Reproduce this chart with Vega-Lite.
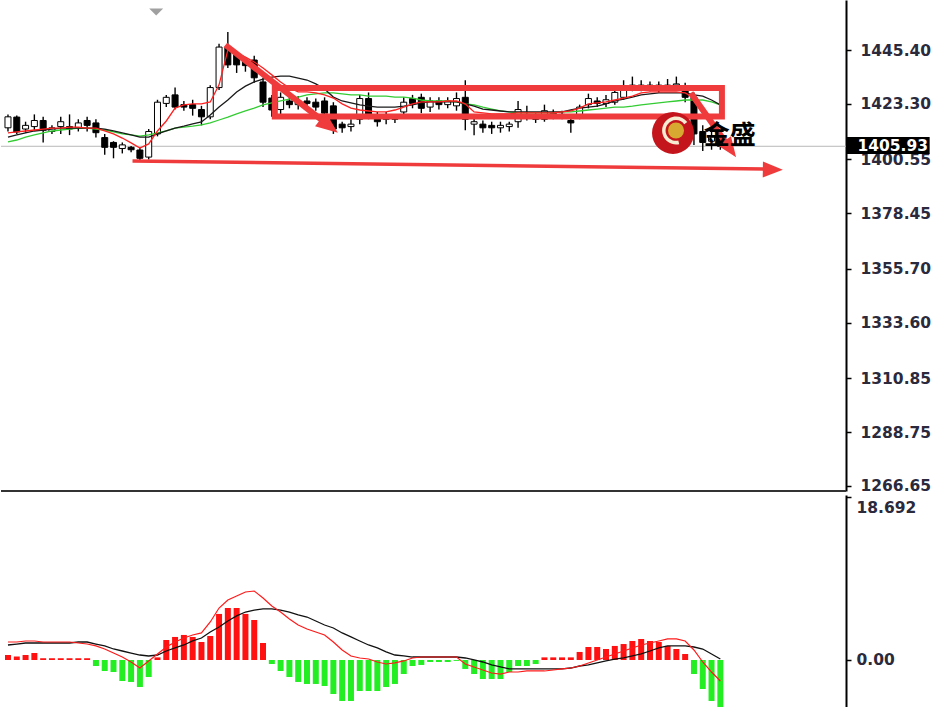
{
  "$schema": "https://vega.github.io/schema/vega-lite/v6.json",
  "padding": 0,
  "background": "#ffffff",
  "spacing": 0,
  "config": {"view": {"stroke": null}},
  "datasets": {
    "bars": [
      {"i":0,"o":1413.5,"h":1419,"l":1412,"c":1418,"fast":1411.4,"mid":1409.7,"slow":1407.7,"hist":0.57,"macd":2.06,"signal":1.72},
      {"i":1,"o":1417.9,"h":1418.5,"l":1411,"c":1411.8,"fast":1411.8,"mid":1410.6,"slow":1408.5,"hist":0.4,"macd":2.06,"signal":1.83},
      {"i":2,"o":1413,"h":1416,"l":1411.5,"c":1414.5,"fast":1412.2,"mid":1411.4,"slow":1409.7,"hist":0.57,"macd":2.18,"signal":1.95},
      {"i":3,"o":1414,"h":1419,"l":1412.5,"c":1416.5,"fast":1412.6,"mid":1412.2,"slow":1410.6,"hist":0.8,"macd":2.18,"signal":1.95},
      {"i":4,"o":1416.5,"h":1418,"l":1407.5,"c":1412.5,"fast":1413.0,"mid":1412.6,"slow":1411.4,"hist":0.2,"macd":2.06,"signal":1.95},
      {"i":5,"o":1412,"h":1414.5,"l":1411,"c":1413.5,"fast":1413.4,"mid":1413.0,"slow":1412.2,"hist":0.2,"macd":2.06,"signal":1.95},
      {"i":6,"o":1414,"h":1418,"l":1411,"c":1416,"fast":1413.4,"mid":1413.4,"slow":1412.6,"hist":0.2,"macd":2.06,"signal":1.95},
      {"i":7,"o":1414,"h":1419,"l":1410.5,"c":1413,"fast":1413.8,"mid":1413.4,"slow":1413.0,"hist":0.2,"macd":2.06,"signal":1.95},
      {"i":8,"o":1413.5,"h":1417,"l":1412,"c":1415.5,"fast":1413.8,"mid":1413.4,"slow":1413.4,"hist":0.2,"macd":1.95,"signal":2.06},
      {"i":9,"o":1416.5,"h":1418,"l":1412,"c":1414.5,"fast":1413.4,"mid":1413.4,"slow":1413.4,"hist":0.2,"macd":1.83,"signal":2.06},
      {"i":10,"o":1415.5,"h":1417,"l":1409.5,"c":1411.5,"fast":1413.4,"mid":1413.4,"slow":1413.0,"hist":-0.69,"macd":1.61,"signal":1.83},
      {"i":11,"o":1409.5,"h":1411,"l":1402.5,"c":1405.5,"fast":1412.2,"mid":1413.0,"slow":1412.6,"hist":-1.26,"macd":1.26,"signal":1.61},
      {"i":12,"o":1407.5,"h":1408,"l":1401,"c":1405.5,"fast":1411.0,"mid":1412.2,"slow":1411.8,"hist":-1.38,"macd":0.80,"signal":1.26},
      {"i":13,"o":1405,"h":1407.5,"l":1403,"c":1406.5,"fast":1409.3,"mid":1411.4,"slow":1411.0,"hist":-2.41,"macd":0.34,"signal":1.03},
      {"i":14,"o":1405.5,"h":1406,"l":1403.5,"c":1404.5,"fast":1407.3,"mid":1410.6,"slow":1410.6,"hist":-2.52,"macd":-0.23,"signal":0.80},
      {"i":15,"o":1404.4,"h":1405.5,"l":1399.5,"c":1401,"fast":1405.2,"mid":1409.7,"slow":1410.1,"hist":-3.10,"macd":-0.92,"signal":0.57},
      {"i":16,"o":1401.5,"h":1413,"l":1400.5,"c":1412,"fast":1406.9,"mid":1409.7,"slow":1410.6,"hist":-1.95,"macd":-0.11,"signal":0.46},
      {"i":17,"o":1411,"h":1425,"l":1410,"c":1424,"fast":1412.2,"mid":1411.0,"slow":1411.4,"hist":0.3,"macd":0.69,"signal":0.57},
      {"i":18,"o":1423.5,"h":1427,"l":1422,"c":1426,"fast":1416.3,"mid":1412.2,"slow":1412.2,"hist":2.29,"macd":1.49,"signal":1.03},
      {"i":19,"o":1427,"h":1430,"l":1421,"c":1422,"fast":1421.6,"mid":1413.4,"slow":1413.4,"hist":2.64,"macd":2.06,"signal":1.38},
      {"i":20,"o":1423,"h":1424.5,"l":1420.5,"c":1422,"fast":1422.9,"mid":1414.2,"slow":1413.8,"hist":2.87,"macd":2.52,"signal":1.72},
      {"i":21,"o":1423,"h":1425,"l":1418.5,"c":1421.5,"fast":1423.3,"mid":1415.1,"slow":1414.2,"hist":2.64,"macd":2.87,"signal":2.18},
      {"i":22,"o":1421,"h":1422.5,"l":1414.5,"c":1418,"fast":1423.3,"mid":1415.9,"slow":1414.7,"hist":2.06,"macd":3.10,"signal":2.52},
      {"i":23,"o":1418,"h":1431,"l":1417,"c":1430,"fast":1424.1,"mid":1418.8,"slow":1415.5,"hist":2.75,"macd":4.36,"signal":3.21},
      {"i":24,"o":1430,"h":1448,"l":1429,"c":1446.6,"fast":1431.1,"mid":1422.0,"slow":1416.7,"hist":5.28,"macd":5.96,"signal":3.78},
      {"i":25,"o":1446.5,"h":1452.8,"l":1438,"c":1439.3,"fast":1445.4,"mid":1424.9,"slow":1417.9,"hist":5.96,"macd":6.88,"signal":4.47},
      {"i":26,"o":1443.4,"h":1444.5,"l":1436,"c":1439.3,"fast":1444.2,"mid":1428.2,"slow":1419.2,"hist":5.96,"macd":7.34,"signal":5.05},
      {"i":27,"o":1441,"h":1442.5,"l":1436.5,"c":1439,"fast":1442.5,"mid":1430.6,"slow":1420.4,"hist":5.28,"macd":7.80,"signal":5.50},
      {"i":28,"o":1441.3,"h":1443,"l":1432,"c":1434,"fast":1440.5,"mid":1432.3,"slow":1421.6,"hist":4.59,"macd":7.91,"signal":5.73},
      {"i":29,"o":1432.3,"h":1434,"l":1422,"c":1424,"fast":1438.0,"mid":1433.5,"slow":1422.9,"hist":1.95,"macd":7.11,"signal":5.85},
      {"i":30,"o":1425.7,"h":1427,"l":1418,"c":1420.8,"fast":1435.2,"mid":1434.3,"slow":1423.7,"hist":-0.46,"macd":6.19,"signal":5.85},
      {"i":31,"o":1421,"h":1428,"l":1419,"c":1426,"fast":1432.3,"mid":1434.7,"slow":1424.5,"hist":-1.26,"macd":5.50,"signal":5.73},
      {"i":32,"o":1424.5,"h":1426,"l":1421.5,"c":1423,"fast":1429.8,"mid":1434.7,"slow":1425.3,"hist":-1.95,"macd":4.70,"signal":5.50},
      {"i":33,"o":1423,"h":1426.5,"l":1421,"c":1424.5,"fast":1428.2,"mid":1433.9,"slow":1426.1,"hist":-2.52,"macd":4.01,"signal":5.16},
      {"i":34,"o":1424.5,"h":1426,"l":1422,"c":1423.5,"fast":1428.2,"mid":1433.1,"slow":1427.0,"hist":-2.75,"macd":3.56,"signal":4.93},
      {"i":35,"o":1424,"h":1425.5,"l":1420.5,"c":1422,"fast":1427.8,"mid":1431.5,"slow":1427.4,"hist":-2.75,"macd":3.21,"signal":4.47},
      {"i":36,"o":1424.5,"h":1426,"l":1418,"c":1419.5,"fast":1427.0,"mid":1429.4,"slow":1427.8,"hist":-2.98,"macd":2.87,"signal":4.01},
      {"i":37,"o":1422.5,"h":1424,"l":1411,"c":1413,"fast":1425.7,"mid":1426.1,"slow":1427.8,"hist":-3.90,"macd":2.06,"signal":3.67},
      {"i":38,"o":1415,"h":1416,"l":1411.5,"c":1413.5,"fast":1423.3,"mid":1424.5,"slow":1427.4,"hist":-4.70,"macd":1.15,"signal":3.10},
      {"i":39,"o":1414,"h":1417,"l":1412,"c":1415,"fast":1421.6,"mid":1423.7,"slow":1427.0,"hist":-4.70,"macd":0.46,"signal":2.64},
      {"i":40,"o":1417,"h":1427,"l":1415,"c":1425.5,"fast":1420.8,"mid":1422.9,"slow":1427.0,"hist":-3.56,"macd":0.23,"signal":2.18},
      {"i":41,"o":1425.5,"h":1428,"l":1417,"c":1419,"fast":1420.4,"mid":1422.4,"slow":1426.5,"hist":-3.56,"macd":0.11,"signal":1.72},
      {"i":42,"o":1418,"h":1420,"l":1414,"c":1416,"fast":1420.0,"mid":1422.0,"slow":1426.5,"hist":-3.56,"macd":-0.23,"signal":1.38},
      {"i":43,"o":1417,"h":1420,"l":1415,"c":1418,"fast":1420.0,"mid":1422.0,"slow":1426.5,"hist":-3.10,"macd":-0.46,"signal":0.92},
      {"i":44,"o":1418,"h":1419,"l":1415.5,"c":1417,"fast":1420.8,"mid":1422.0,"slow":1426.1,"hist":-2.75,"macd":-0.34,"signal":0.57},
      {"i":45,"o":1420,"h":1426,"l":1418,"c":1424,"fast":1422.0,"mid":1422.4,"slow":1426.1,"hist":-1.61,"macd":-0.11,"signal":0.46},
      {"i":46,"o":1425.5,"h":1427,"l":1421.5,"c":1423.5,"fast":1423.3,"mid":1422.9,"slow":1425.7,"hist":-0.69,"macd":0.23,"signal":0.34},
      {"i":47,"o":1426,"h":1427.5,"l":1419.5,"c":1421.5,"fast":1424.1,"mid":1423.7,"slow":1424.9,"hist":-0.57,"macd":0.34,"signal":0.34},
      {"i":48,"o":1422,"h":1426,"l":1420,"c":1424.5,"fast":1424.1,"mid":1424.1,"slow":1424.5,"hist":-0.23,"macd":0.34,"signal":0.34},
      {"i":49,"o":1424.5,"h":1426,"l":1421,"c":1423,"fast":1424.1,"mid":1424.1,"slow":1424.5,"hist":-0.23,"macd":0.34,"signal":0.34},
      {"i":50,"o":1423,"h":1426,"l":1421.5,"c":1424.5,"fast":1424.5,"mid":1424.1,"slow":1424.5,"hist":-0.23,"macd":0.34,"signal":0.34},
      {"i":51,"o":1422.5,"h":1428,"l":1420.5,"c":1425.5,"fast":1424.5,"mid":1424.1,"slow":1424.1,"hist":-0.1,"macd":0.34,"signal":0.34},
      {"i":52,"o":1426,"h":1433,"l":1412.5,"c":1417,"fast":1423.3,"mid":1423.3,"slow":1423.3,"hist":-1.03,"macd":-0.46,"signal":0.23},
      {"i":53,"o":1415,"h":1417.5,"l":1410.5,"c":1416,"fast":1420.0,"mid":1422.4,"slow":1422.9,"hist":-1.61,"macd":-0.80,"signal":0},
      {"i":54,"o":1415,"h":1416.5,"l":1411.5,"c":1413.5,"fast":1419.6,"mid":1421.2,"slow":1422.0,"hist":-2.18,"macd":-1.15,"signal":-0.23},
      {"i":55,"o":1414.5,"h":1416,"l":1411,"c":1413.5,"fast":1419.2,"mid":1420.8,"slow":1421.2,"hist":-2.18,"macd":-1.49,"signal":-0.57},
      {"i":56,"o":1413.5,"h":1416,"l":1411.5,"c":1414.5,"fast":1419.2,"mid":1420.4,"slow":1420.4,"hist":-2.18,"macd":-1.61,"signal":-0.80},
      {"i":57,"o":1414,"h":1416,"l":1412,"c":1415,"fast":1419.2,"mid":1420.0,"slow":1420.0,"hist":-1.38,"macd":-1.38,"signal":-1.03},
      {"i":58,"o":1416,"h":1424.5,"l":1413.5,"c":1421,"fast":1419.6,"mid":1420.0,"slow":1419.6,"hist":-0.69,"macd":-1.38,"signal":-1.03},
      {"i":59,"o":1419,"h":1422.5,"l":1416.5,"c":1418,"fast":1419.6,"mid":1420.0,"slow":1419.6,"hist":-0.69,"macd":-1.26,"signal":-1.03},
      {"i":60,"o":1418,"h":1419.5,"l":1415.5,"c":1417,"fast":1419.6,"mid":1420.0,"slow":1419.6,"hist":-0.46,"macd":-1.26,"signal":-1.03},
      {"i":61,"o":1417,"h":1423,"l":1416,"c":1420.5,"fast":1419.6,"mid":1420.0,"slow":1419.6,"hist":0.3,"macd":-1.26,"signal":-1.03},
      {"i":62,"o":1419.5,"h":1421,"l":1417,"c":1418.5,"fast":1419.6,"mid":1420.0,"slow":1419.6,"hist":0.3,"macd":-1.15,"signal":-1.03},
      {"i":63,"o":1418.5,"h":1420.5,"l":1417,"c":1419,"fast":1420.0,"mid":1420.0,"slow":1420.0,"hist":0.3,"macd":-1.03,"signal":-1.03},
      {"i":64,"o":1416.5,"h":1418,"l":1411.5,"c":1415.5,"fast":1420.4,"mid":1420.8,"slow":1420.0,"hist":0.3,"macd":-0.92,"signal":-0.92},
      {"i":65,"o":1418,"h":1423,"l":1417,"c":1422,"fast":1421.6,"mid":1421.6,"slow":1420.4,"hist":0.92,"macd":-0.69,"signal":-0.69},
      {"i":66,"o":1423,"h":1427.5,"l":1421.5,"c":1425.5,"fast":1423.3,"mid":1422.0,"slow":1420.8,"hist":1.49,"macd":-0.34,"signal":-0.57},
      {"i":67,"o":1424.5,"h":1426,"l":1422,"c":1423.5,"fast":1423.7,"mid":1422.4,"slow":1421.2,"hist":1.49,"macd":0,"signal":-0.34},
      {"i":68,"o":1423.5,"h":1427,"l":1422,"c":1425,"fast":1424.1,"mid":1423.3,"slow":1421.6,"hist":1.26,"macd":0.34,"signal":-0.11},
      {"i":69,"o":1424,"h":1430,"l":1423,"c":1428,"fast":1424.9,"mid":1424.5,"slow":1422.0,"hist":1.61,"macd":0.69,"signal":0.11},
      {"i":70,"o":1426,"h":1433,"l":1425,"c":1429.5,"fast":1425.7,"mid":1425.3,"slow":1422.0,"hist":1.83,"macd":1.03,"signal":0.23},
      {"i":71,"o":1429.5,"h":1434.5,"l":1428.5,"c":1431,"fast":1426.5,"mid":1426.1,"slow":1422.4,"hist":2.18,"macd":1.38,"signal":0.46},
      {"i":72,"o":1431,"h":1433,"l":1428.5,"c":1430,"fast":1427.8,"mid":1427.0,"slow":1422.9,"hist":2.41,"macd":1.72,"signal":0.69},
      {"i":73,"o":1430,"h":1432.5,"l":1428.5,"c":1431,"fast":1428.2,"mid":1427.4,"slow":1423.3,"hist":2.18,"macd":1.95,"signal":1.03},
      {"i":74,"o":1431,"h":1432.5,"l":1428,"c":1430,"fast":1428.2,"mid":1427.8,"slow":1423.7,"hist":2.06,"macd":2.18,"signal":1.38},
      {"i":75,"o":1430,"h":1433.5,"l":1429,"c":1431,"fast":1428.2,"mid":1427.8,"slow":1424.1,"hist":1.61,"macd":2.41,"signal":1.61},
      {"i":76,"o":1431,"h":1434.5,"l":1429,"c":1431.5,"fast":1428.2,"mid":1427.8,"slow":1424.5,"hist":1.26,"macd":2.41,"signal":1.61},
      {"i":77,"o":1430.5,"h":1432,"l":1424,"c":1426,"fast":1427.8,"mid":1427.8,"slow":1424.9,"hist":0.69,"macd":2.18,"signal":1.61},
      {"i":78,"o":1426,"h":1428,"l":1406.5,"c":1411,"fast":1425.7,"mid":1427.0,"slow":1424.9,"hist":-1.61,"macd":1.15,"signal":1.49},
      {"i":79,"o":1412,"h":1414.5,"l":1404,"c":1407.5,"fast":1420.8,"mid":1426.5,"slow":1424.9,"hist":-3.33,"macd":-0.23,"signal":1.26},
      {"i":80,"o":1408,"h":1412,"l":1404.5,"c":1410,"fast":1415.9,"mid":1424.9,"slow":1424.1,"hist":-4.70,"macd":-1.38,"signal":0.69},
      {"i":81,"o":1410,"h":1411.5,"l":1404.5,"c":1405.93,"fast":1411.8,"mid":1422.9,"slow":1422.9,"hist":-5.39,"macd":-2.41,"signal":0.11}
    ],
    "last": [{"price": 1405.93}],
    "one": [{}]
  },
  "vconcat": [
    {
      "width": 845,
      "height": 491,
      "layer": [
        {
          "data": {"name": "last"},
          "mark": {"type": "rule", "color": "#b8b8b8", "strokeWidth": 1},
          "encoding": {
            "y": {
              "field": "price", "type": "quantitative",
              "scale": {"domain": [1264.6, 1465.9], "nice": false, "zero": false},
              "axis": {
                "orient": "right", "title": null, "grid": false,
                "values": [1266.65, 1288.75, 1310.85, 1333.6, 1355.7, 1378.45, 1400.55, 1423.3, 1445.4],
                "format": ".2f", "labelOverlap": false,
                "domainColor": "#000000", "domainWidth": 2,
                "tickColor": "#000000", "tickSize": 5, "tickWidth": 1.5,
                "labelFont": "DejaVu Sans", "labelFontSize": 15.5, "labelFontWeight": "bold", "labelColor": "#2a2a3c", "labelPadding": 9
              }
            }
          }
        },
        {
          "data": {"name": "bars"},
          "mark": {"type": "rule", "color": "#000000", "strokeWidth": 1.4},
          "encoding": {
            "x": {"field": "i", "type": "quantitative", "scale": {"domain": [-0.225, 94.72], "nice": false, "zero": false}, "axis": null},
            "y": {"field": "l", "type": "quantitative"},
            "y2": {"field": "h"}
          }
        },
        {
          "data": {"name": "bars"},
          "mark": {"type": "bar", "width": 6, "stroke": "#000000", "strokeWidth": 1},
          "encoding": {
            "x": {"field": "i", "type": "quantitative"},
            "y": {"field": "o", "type": "quantitative"},
            "y2": {"field": "c"},
            "fill": {"condition": {"test": "datum.c >= datum.o", "value": "#ffffff"}, "value": "#000000"}
          }
        },
        {
          "data": {"name": "bars"},
          "mark": {"type": "line", "color": "#33cc33", "strokeWidth": 1.3},
          "encoding": {"x": {"field": "i", "type": "quantitative"}, "y": {"field": "slow", "type": "quantitative"}}
        },
        {
          "data": {"name": "bars"},
          "mark": {"type": "line", "color": "#1a1a1a", "strokeWidth": 1.3},
          "encoding": {"x": {"field": "i", "type": "quantitative"}, "y": {"field": "mid", "type": "quantitative"}}
        },
        {
          "data": {"name": "bars"},
          "mark": {"type": "line", "color": "#ff2020", "strokeWidth": 1.3},
          "encoding": {"x": {"field": "i", "type": "quantitative"}, "y": {"field": "fast", "type": "quantitative"}}
        },
        {
          "data": {"name": "one"},
          "mark": {"type": "rect", "filled": false, "color": "#ef3b3b", "strokeWidth": 6},
          "encoding": {"x": {"datum": 30.34}, "x2": {"datum": 81.18}, "y": {"datum": 1429.8}, "y2": {"datum": 1418.1}}
        },
        {
          "data": {"name": "one"},
          "mark": {"type": "rule", "color": "#ef3b3b", "strokeWidth": 6},
          "encoding": {"x": {"datum": 24.72}, "x2": {"datum": 35.96}, "y": {"datum": 1447.45}, "y2": {"datum": 1415.9}}
        },
        {
          "data": {"name": "one"},
          "mark": {"type": "rule", "color": "#ef3b3b", "strokeWidth": 3.5},
          "encoding": {"x": {"datum": 14.16}, "x2": {"datum": 86.29}, "y": {"datum": 1399.9}, "y2": {"datum": 1396.6}}
        },
        {
          "data": {"name": "one"},
          "mark": {"type": "rule", "color": "#ef3b3b", "strokeWidth": 6},
          "encoding": {"x": {"datum": 77.64}, "x2": {"datum": 81.57}, "y": {"datum": 1427.8}, "y2": {"datum": 1407.7}}
        },
        {
          "data": {"name": "one"},
          "mark": {"type": "point", "shape": "M1,0L-1,-0.8L-1,0.8Z", "filled": true, "color": "#ef3b3b", "opacity": 1, "size": 484, "angle": 37.6},
          "encoding": {"x": {"datum": 36.52}, "y": {"datum": 1414.2}}
        },
        {
          "data": {"name": "one"},
          "mark": {"type": "point", "shape": "M1,0L-1,-0.8L-1,0.8Z", "filled": true, "color": "#ef3b3b", "opacity": 1, "size": 400, "angle": 0.7},
          "encoding": {"x": {"datum": 86.97}, "y": {"datum": 1396.4}}
        },
        {
          "data": {"name": "one"},
          "mark": {"type": "point", "shape": "M1,0L-1,-0.8L-1,0.8Z", "filled": true, "color": "#ef3b3b", "opacity": 1, "size": 400, "angle": 54.5},
          "encoding": {"x": {"datum": 82.13}, "y": {"datum": 1404.8}}
        },
        {
          "data": {"name": "one"},
          "mark": {"type": "point", "shape": "M-1,-0.5L1,-0.5L0,0.5Z", "filled": true, "color": "#a0a0a0", "opacity": 1, "size": 196},
          "encoding": {"x": {"datum": 16.85}, "y": {"datum": 1461.0}}
        },
        {
          "data": {"name": "one"},
          "mark": {"type": "point", "shape": "circle", "filled": true, "color": "#c4151c", "opacity": 1, "size": 1764},
          "encoding": {"x": {"datum": 75.62}, "y": {"datum": 1411.4}}
        },
        {
          "data": {"name": "one"},
          "mark": {"type": "point", "shape": "M0.55,-0.84A1,1 0 1,0 0.55,0.84L0.4,0.62A0.74,0.74 0 1,1 0.4,-0.62Z", "filled": true, "color": "#f6ecd2", "opacity": 1, "size": 784, "angle": 20},
          "encoding": {"x": {"datum": 75.96}, "y": {"datum": 1412.4}}
        },
        {
          "data": {"name": "one"},
          "mark": {"type": "point", "shape": "circle", "filled": true, "color": "#d8a930", "opacity": 1, "size": 256},
          "encoding": {"x": {"datum": 75.96}, "y": {"datum": 1412.4}}
        },
        {
          "data": {"name": "one"},
          "mark": {"type": "text", "text": "金盛", "align": "left", "baseline": "middle", "font": "Noto Sans CJK SC", "fontSize": 26, "fontWeight": "bold", "color": "#000000"},
          "encoding": {"x": {"datum": 79.1}, "y": {"datum": 1410.1}}
        },
        {
          "data": {"name": "last"},
          "mark": {"type": "rect", "color": "#000000"},
          "encoding": {"x": {"datum": 95.3}, "x2": {"datum": 104.8}, "y": {"datum": 1409.7}, "y2": {"datum": 1402.75}}
        },
        {
          "data": {"name": "last"},
          "mark": {"type": "text", "align": "center", "baseline": "middle", "font": "DejaVu Sans", "fontSize": 15.5, "fontWeight": "bold", "color": "#ffffff"},
          "encoding": {"x": {"datum": 100.6}, "y": {"field": "price", "type": "quantitative"}, "text": {"field": "price", "type": "quantitative", "format": ".2f"}}
        },
        {
          "data": {"name": "one"},
          "mark": {"type": "rule", "color": "#333333", "strokeWidth": 2},
          "encoding": {"y": {"datum": 1264.6}}
        }
      ]
    },
    {
      "width": 845,
      "height": 216,
      "layer": [
        {
          "data": {"name": "bars"},
          "mark": {"type": "bar", "width": 6},
          "encoding": {
            "x": {"field": "i", "type": "quantitative", "scale": {"domain": [-0.225, 94.72], "nice": false, "zero": false}, "axis": null},
            "y": {
              "field": "hist", "type": "quantitative",
              "scale": {"domain": [-5.85, 18.92], "nice": false, "zero": false},
              "axis": {
                "orient": "right", "title": null, "grid": false,
                "values": [0, 18.692],
                "labelExpr": "datum.value == 0 ? '0.00' : format(datum.value, '.3f')",
                "labelOverlap": false,
                "labelBaseline": {"condition": {"test": "datum.value > 1", "value": "top"}, "value": "middle"},
                "labelOffset": {"condition": {"test": "datum.value > 1", "value": 4}, "value": 0},
                "domainColor": "#000000", "domainWidth": 2,
                "tickColor": "#000000", "tickSize": 5, "tickWidth": 1.5,
                "labelFont": "DejaVu Sans", "labelFontSize": 15.5, "labelFontWeight": "bold", "labelColor": "#2a2a3c", "labelPadding": 5
              }
            },
            "y2": {"datum": 0},
            "color": {"condition": {"test": "datum.hist >= 0", "value": "#ff1111"}, "value": "#22ee22"}
          }
        },
        {
          "data": {"name": "bars"},
          "mark": {"type": "line", "color": "#111111", "strokeWidth": 1.3},
          "encoding": {"x": {"field": "i", "type": "quantitative"}, "y": {"field": "signal", "type": "quantitative"}}
        },
        {
          "data": {"name": "bars"},
          "mark": {"type": "line", "color": "#ff1a1a", "strokeWidth": 1.2},
          "encoding": {"x": {"field": "i", "type": "quantitative"}, "y": {"field": "macd", "type": "quantitative"}}
        }
      ]
    }
  ]
}
